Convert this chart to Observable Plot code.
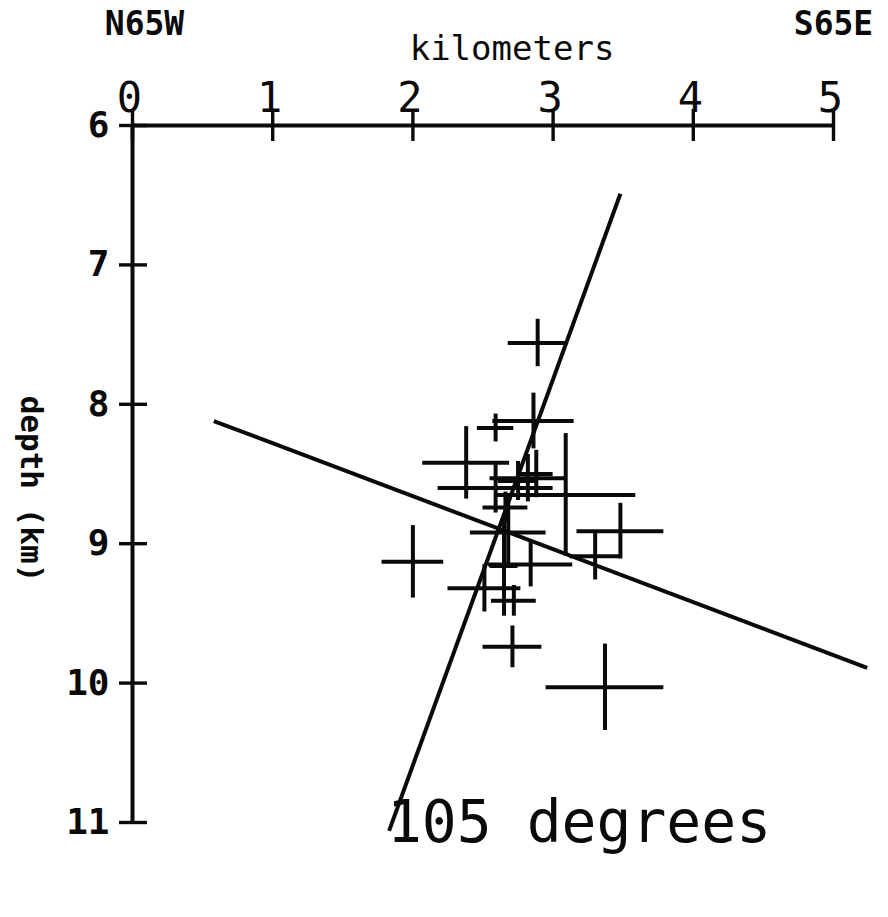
<!DOCTYPE html>
<html><head><meta charset="utf-8">
<script src="https://cdn.jsdelivr.net/npm/d3@7"></script>
<script src="https://cdn.jsdelivr.net/npm/@observablehq/plot@0.6"></script>
<style>body{margin:0;background:#fff}#chart svg{display:block}</style>
</head><body><div id="chart"></div>
<script>
// axis ticks
const xTicks = [0, 1, 2, 3, 4, 5];          // kilometers along section
const yTicks = [6, 7, 8, 9, 10, 11];        // depth (km)
const dirLabels = ["N65W", "S65E"];

// hypocenters: position, depth and half-widths of the error crosses
const evX        = [2.89, 2.86, 2.59, 2.38, 2.59, 3.09, 3.48, 3.30, 2.00, 2.51, 2.72, 2.71, 3.37, 2.84, 2.68, 2.66, 2.82, 2.75, 2.65, 2.88];
const evDepth    = [7.56, 8.12, 8.17, 8.42, 8.60, 8.65, 8.91, 9.09, 9.13, 9.32, 9.41, 9.74, 10.03, 9.15, 8.92, 8.74, 8.53, 8.55, 9.16, 8.50];
const evXErr     = [0.21, 0.29, 0.13, 0.31, 0.41, 0.50, 0.31, 0.18, 0.22, 0.26, 0.16, 0.21, 0.42, 0.30, 0.27, 0.16, 0.27, 0.14, 0.10, 0.12];
const evDepthErr = [0.17, 0.20, 0.10, 0.26, 0.18, 0.44, 0.20, 0.17, 0.26, 0.17, 0.11, 0.15, 0.31, 0.16, 0.25, 0.11, 0.17, 0.14, 0.36, 0.17];

// two fitted planes (end points)
const planeX1 = [3.48, 0.58];
const planeD1 = [6.49, 8.12];
const planeX2 = [1.83, 5.24];
const planeD2 = [11.06, 9.89];

const events = evX.map((x, i) => ({x, d: evDepth[i], ex: evXErr[i], ed: evDepthErr[i]}));
const planes = planeX1.map((x1, i) => ({x1, y1: planeD1[i], x2: planeX2[i], y2: planeD2[i]}));

const font = "DejaVu Sans Mono";
const ink = "#0a0a0a";
const sw = 4;
const dTop = yTicks[0], dBottom = yTicks[yTicks.length - 1];
const xLeft = xTicks[0], xRight = xTicks[xTicks.length - 1];

const chart = Plot.plot({
  width: 888,
  height: 917,
  marginLeft: 132,
  marginRight: 55,
  marginTop: 125,
  marginBottom: 95,
  style: {fontFamily: font, background: "#fff"},
  x: {domain: [xLeft, xRight], axis: null},
  y: {domain: [dTop, dBottom], reverse: true, axis: null},
  marks: [
    Plot.ruleY([dTop], {x1: xLeft, x2: xRight, stroke: ink, strokeWidth: sw}),
    Plot.ruleX([xLeft], {y1: dTop, y2: dBottom, stroke: ink, strokeWidth: sw}),
    Plot.ruleX(xTicks, {x: d => d, y1: dTop, y2: dTop, insetTop: -16, insetBottom: -16, stroke: ink, strokeWidth: 3.4}),
    Plot.ruleY(yTicks, {y: d => d, x1: xLeft, x2: xLeft, insetLeft: -13, insetRight: -15, stroke: ink, strokeWidth: 3.4}),
    Plot.text(xTicks, {x: d => d, y: dTop, text: d => String(d), dy: -27, dx: -3, fontSize: 42, fill: ink}),
    Plot.text(yTicks, {x: xLeft, y: d => d, text: d => String(d), textAnchor: "end", dx: -23, dy: 0, fontSize: 36, fontWeight: "bold", fill: ink}),
    Plot.text([dirLabels[0]], {x: xLeft, y: dTop, text: d => d, dx: 12, dy: -101, fontSize: 33, fontWeight: "bold", fill: ink}),
    Plot.text([dirLabels[1]], {x: xRight, y: dTop, text: d => d, dx: 0, dy: -101, fontSize: 33, fontWeight: "bold", fill: ink}),
    Plot.text(["kilometers"], {frameAnchor: "top", text: d => d, dx: 29, dy: -90, fontSize: 34, fill: ink}),
    Plot.text(["depth (km)"], {frameAnchor: "left", textAnchor: "middle", text: d => d, rotate: 90, dx: -102, dy: 15, fontSize: 31, fontWeight: "bold", fill: ink}),
    Plot.text(["105 degrees"], {frameAnchor: "bottom", text: d => d, dx: 96, dy: 19, fontSize: 58, fill: ink}),
    Plot.link(planes, {x1: "x1", y1: "y1", x2: "x2", y2: "y2", stroke: ink, strokeWidth: sw}),
    Plot.ruleY(events, {y: "d", x1: d => d.x - d.ex, x2: d => d.x + d.ex, stroke: ink, strokeWidth: sw}),
    Plot.ruleX(events, {x: "x", y1: d => d.d - d.ed, y2: d => d.d + d.ed, stroke: ink, strokeWidth: sw})
  ]
});
document.getElementById("chart").append(chart);
</script>
</body></html>
